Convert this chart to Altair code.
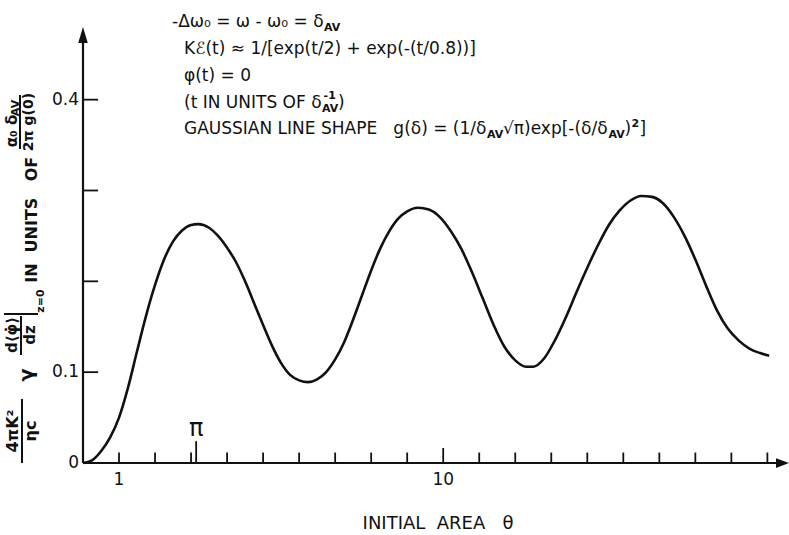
import altair as alt
import pandas as pd

# ---------------- data ----------------
theta = [0, 0.25, 0.5, 0.75, 1.0, 1.25, 1.5, 1.75, 2.0, 2.25,
         2.5, 2.75, 3.0, 3.2, 3.5, 3.75, 4.0, 4.25, 4.5, 4.75,
         5.0, 5.25, 5.5, 5.75, 6.0, 6.25, 6.5, 6.75, 7.0, 7.25,
         7.5, 7.75, 8.0, 8.25, 8.5, 8.75, 9.0, 9.3, 9.6, 9.9,
         10.2, 10.5, 10.8, 11.1, 11.4, 11.7, 12.0, 12.3, 12.5, 12.8,
         13.1, 13.4, 13.7, 14.0, 14.3, 14.6, 14.9, 15.2, 15.5, 15.8,
         16.1, 16.4, 16.7, 17.0, 17.3, 17.6, 17.9, 18.2, 18.5, 18.8, 19.05]
value = [0, 0.003, 0.013, 0.028, 0.050, 0.083, 0.123, 0.162, 0.196, 0.224,
         0.244, 0.256, 0.262, 0.263, 0.259, 0.250, 0.237, 0.221, 0.200, 0.176,
         0.152, 0.129, 0.110, 0.097, 0.091, 0.089, 0.092, 0.100, 0.114, 0.133,
         0.158, 0.185, 0.212, 0.236, 0.255, 0.269, 0.277, 0.281, 0.279, 0.271,
         0.256, 0.236, 0.210, 0.181, 0.152, 0.128, 0.113, 0.106, 0.106, 0.115,
         0.135, 0.160, 0.188, 0.215, 0.240, 0.262, 0.278, 0.289, 0.294, 0.293,
         0.286, 0.271, 0.250, 0.224, 0.195, 0.168, 0.148, 0.135, 0.126, 0.121, 0.118]

x_tick_values = list(range(1, 20))
x_tick_labeled = [1, 10]
x_tick_label_text = ["1", "10"]
y_tick_values = [0, 0.1, 0.2, 0.3, 0.4]
y_tick_label_text = ["0", "0.1", "", "", "0.4"]
pi_value = 3.14159

# ---------------- layout ----------------
X0, Y0 = 83, 27           # plot origin in page pixels
W, H = 706, 436
XMAX, YMAX = 19.6, 0.48
FONT = "DejaVu Sans"
BLACK = "#111111"
NB = "\u00a0"             # non-collapsing space

xs = alt.Scale(domain=[0, XMAX], nice=False, zero=False)
ys = alt.Scale(domain=[0, YMAX], nice=False, zero=False)
dummy = pd.DataFrame({"d": [0]})

def X(field):
    return alt.X(field, type="quantitative", scale=xs, axis=None)

def Y(field):
    return alt.Y(field, type="quantitative", scale=ys, axis=None)

layers = []

# curve
curve_df = pd.DataFrame({"theta": theta, "value": value})
layers.append(alt.Chart(curve_df).mark_line(color=BLACK, strokeWidth=2.6, interpolate="monotone")
              .encode(x=X("theta"), y=Y("value")))

# axis lines
axes_df = pd.DataFrame({"x": [0, 0], "x2": [19.25, 0], "y": [0, 0], "y2": [0, 0.465]})
layers.append(alt.Chart(axes_df).mark_rule(color=BLACK, strokeWidth=2.2)
              .encode(x=X("x"), x2="x2", y=Y("y"), y2="y2"))

# arrowheads
up_df = pd.DataFrame({"x": [0], "y": [0.4712]})
layers.append(alt.Chart(up_df).mark_point(shape="M0,-1L0.6,1L-0.6,1Z", filled=True, size=256,
                                          color=BLACK, opacity=1, strokeWidth=0)
              .encode(x=X("x"), y=Y("y")))
right_df = pd.DataFrame({"x": [19.42], "y": [0]})
layers.append(alt.Chart(right_df).mark_point(shape="M1,0L-1,-0.75L-1,0.75Z", filled=True, size=169,
                                             color=BLACK, opacity=1, strokeWidth=0)
              .encode(x=X("x"), y=Y("y")))

# x ticks (pointing up into the plot)
xt_df = pd.DataFrame({"x": x_tick_values, "y": [0] * len(x_tick_values),
                      "y2": [0.0165 if v == 10 else 0.0115 for v in x_tick_values]})
layers.append(alt.Chart(xt_df).mark_rule(color=BLACK, strokeWidth=1.8)
              .encode(x=X("x"), y=Y("y"), y2="y2"))
# pi tick + label
pi_df = pd.DataFrame({"x": [pi_value], "y": [0], "y2": [0.024], "ly": [0.037]})
layers.append(alt.Chart(pi_df).mark_rule(color=BLACK, strokeWidth=1.8)
              .encode(x=X("x"), y=Y("y"), y2="y2"))
layers.append(alt.Chart(pi_df).mark_text(text="π", font=FONT, fontSize=24, color=BLACK,
                                         align="center", baseline="middle")
              .encode(x=X("x"), y=Y("ly")))

# x tick labels
xl_df = pd.DataFrame({"x": x_tick_labeled, "t": x_tick_label_text})
layers.append(alt.Chart(xl_df).mark_text(font=FONT, fontSize=17, color=BLACK, align="center",
                                         baseline="middle")
              .encode(x=X("x"), y=alt.value(480 - Y0), text="t:N"))

# y ticks (pointing right into the plot) and labels
yt_df = pd.DataFrame({"y": y_tick_values, "x": [0] * 5, "x2": [0.42] * 5, "t": y_tick_label_text})
layers.append(alt.Chart(yt_df).mark_rule(color=BLACK, strokeWidth=1.8)
              .encode(y=Y("y"), x=X("x"), x2="x2"))
layers.append(alt.Chart(yt_df).mark_text(font=FONT, fontSize=17, color=BLACK, align="right",
                                         baseline="middle")
              .encode(y=Y("y"), x=alt.value(79 - X0), text="t:N"))

# ---------------- annotation helpers ----------------
def txt(s, x, y, size=17, angle=0, align="left", baseline="alphabetic", weight="normal"):
    return (alt.Chart(dummy)
            .mark_text(text=s, font=FONT, fontSize=size, angle=angle, align=align,
                       baseline=baseline, fontWeight=weight, color=BLACK)
            .encode(x=alt.value(x - X0), y=alt.value(y - Y0)))

def prule(x1, y1, x2, y2, w=1.6):
    return (alt.Chart(dummy).mark_rule(color=BLACK, strokeWidth=w)
            .encode(x=alt.value(x1 - X0), x2=alt.value(x2 - X0),
                    y=alt.value(y1 - Y0), y2=alt.value(y2 - Y0)))

EM = {" ": .318, NB: .318, "(": .390, ")": .390, "/": .337, "=": .838, "+": .838, "-": .361,
      ".": .318, "[": .390, "]": .390, "A": .684, "C": .698, "E": .632, "F": .575, "G": .775,
      "H": .752, "I": .295, "K": .656, "L": .557, "N": .748, "O": .787, "P": .603, "S": .635,
      "T": .611, "U": .732, "V": .684, "e": .615, "g": .635, "p": .635, "t": .392, "x": .592,
      "d": .635, "z": .523, "δ": .612, "ω": .837, "Δ": .684, "φ": .676, "π": .602, "√": .636,
      "₀": .401, "≈": .838, "ℰ": .60, "γ": .592, "α": .635, "η": .634}
for c in "0123456789":
    EM[c] = .636

def width(s, size):
    return sum(EM.get(c, .6) for c in s) * size

MAIN, SMALL = 17, 11

def run(x, base, parts):
    out = []
    for s, kind in parts:
        if kind == "n":
            out.append(txt(s, x, base, MAIN))
            x += width(s, MAIN)
        elif kind == "sub":
            out.append(txt(s, x + 0.5, base + 4, SMALL, weight="bold"))
            x += width(s, SMALL) + 1.5
        elif kind == "sup":
            out.append(txt(s, x + 0.5, base - 7, SMALL, weight="bold"))
            x += width(s, SMALL) + 1.5
        elif kind == "stack":
            sup, sub = s
            out.append(txt(sup, x + 2, base - 9, SMALL, weight="bold"))
            out.append(txt(sub, x + 0.5, base + 4, SMALL, weight="bold"))
            x += max(width(sup, SMALL), width(sub, SMALL)) + 1.5
    return out

# top annotation block
layers += run(172, 27, [("-Δω₀ = ω - ω₀ = δ", "n"), ("AV", "sub")])
layers += run(184, 54, [("Kℰ(t) ≈ 1/[exp(t/2) + exp(-(t/0.8))]", "n")])
layers += run(184, 81, [("φ(t) = 0", "n")])
layers += run(184, 108, [("(t IN UNITS OF δ", "n"), (("-1", "AV"), "stack"), (")", "n")])
layers += run(184, 134, [("GAUSSIAN LINE SHAPE" + NB * 3 + "g(δ) = (1/δ", "n"), ("AV", "sub"),
                         ("√π)exp[-(δ/δ", "n"), ("AV", "sub"), (")", "n"), ("2", "sup"), ("]", "n")])

# x-axis title
layers.append(txt("INITIAL" + NB * 2 + "AREA" + NB * 3 + "θ", 438, 524, 18,
                  align="center", baseline="middle"))

# rotated y-axis title (reads bottom to top)
R = dict(angle=270, align="center", baseline="middle", weight="bold")
layers.append(txt("4πK²", 13, 431, 16, **R))
layers.append(prule(22, 399, 22, 463, 2))
layers.append(txt("ηc", 31, 431, 16, **R))
layers.append(txt("γ", 27, 375, 19, **R))
layers.append(txt("d⟨φ̇⟩", 12, 335, 15, **R))
layers.append(prule(21, 316, 21, 355, 2))
layers.append(txt("dz", 30, 335, 15, **R))
layers.append(prule(4, 314, 38, 314, 1.8))
layers.append(txt("z=0", 41, 301, 11, **R))
layers.append(txt("IN", 32, 273, 16, **R))
layers.append(txt("UNITS", 32, 225, 16, **R))
layers.append(txt("OF", 32, 169, 16, **R))
layers.append(txt("α₀ δ", 12, 131, 15, **R))
layers.append(txt("AV", 16, 108, 11, **R))
layers.append(prule(20, 95, 20, 149, 2))
layers.append(txt("2π g(0)", 29, 122, 14, **R))

chart = (alt.layer(*layers)
         .properties(width=W, height=H,
                     autosize=alt.AutoSizeParams(type="none"),
                     padding={"left": X0, "top": Y0, "right": 789 - X0 - W, "bottom": 535 - Y0 - H},
                     background="white")
         .configure_view(strokeWidth=0))

chart.save("out.html", embed_options={"renderer": "svg", "actions": False})
